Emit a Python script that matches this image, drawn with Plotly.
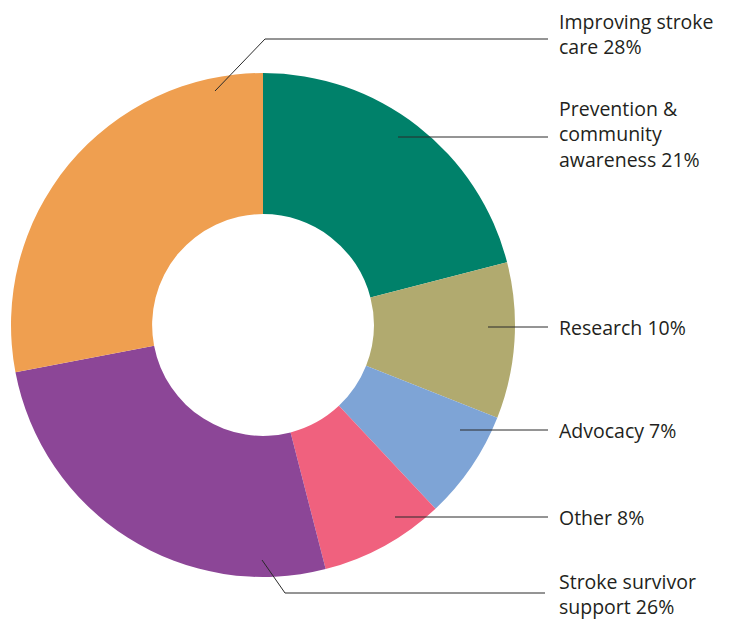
import plotly.graph_objects as go

# Share of spending by category (clockwise from 12 o'clock)
categories = [
    "Prevention & community awareness",
    "Research",
    "Advocacy",
    "Other",
    "Stroke survivor support",
    "Improving stroke care",
]
shares = [21, 10, 7, 8, 26, 28]
label_text = [
    "Prevention &<br>community<br>awareness 21%",
    "Research 10%",
    "Advocacy 7%",
    "Other 8%",
    "Stroke survivor<br>support 26%",
    "Improving stroke<br>care 28%",
]
colors = ["#00816a", "#b1aa6f", "#7ea4d6", "#f0617e", "#8c4697", "#ef9f50"]

W, H = 741, 620
CX, CY, R = 263, 325, 252  # donut centre and outer radius, in pixels


def px(x):
    return x / W


def py(y):
    return 1 - y / H


fig = go.Figure(
    go.Pie(
        labels=categories,
        values=shares,
        sort=False,
        direction="clockwise",
        rotation=0,
        hole=0.44,
        marker=dict(colors=colors, line=dict(width=0)),
        textinfo="none",
        hoverinfo="label+percent",
        domain=dict(x=[px(CX - R), px(CX + R)], y=[py(CY + R), py(CY - R)]),
        showlegend=False,
    )
)

# Leader lines (points in pixels) and the vertical centre of each label
leaders = [
    [(398, 137), (548, 137)],
    [(488, 327), (548, 327)],
    [(460, 430), (548, 430)],
    [(395, 517), (548, 517)],
    [(262, 560), (285, 593), (545, 593)],
    [(215, 91), (265, 39), (548, 39)],
]
label_y = [134, 327, 430, 517, 594, 34]

shapes = []
for pts in leaders:
    path = "M " + " L ".join(f"{px(x)},{py(y)}" for x, y in pts)
    shapes.append(
        dict(type="path", xref="paper", yref="paper", path=path,
             line=dict(color="#2a2a2a", width=1))
    )

annotations = []
for txt, y in zip(label_text, label_y):
    annotations.append(
        dict(x=px(557), y=py(y), xref="paper", yref="paper", text=txt,
             showarrow=False, xanchor="left", yanchor="middle", align="left",
             font=dict(family="Open Sans, sans-serif", size=19.5, color="#231f20"))
    )

fig.update_layout(
    width=W,
    height=H,
    margin=dict(l=0, r=0, t=0, b=0),
    paper_bgcolor="white",
    plot_bgcolor="white",
    shapes=shapes,
    annotations=annotations,
)

fig.write_html("out.html")
